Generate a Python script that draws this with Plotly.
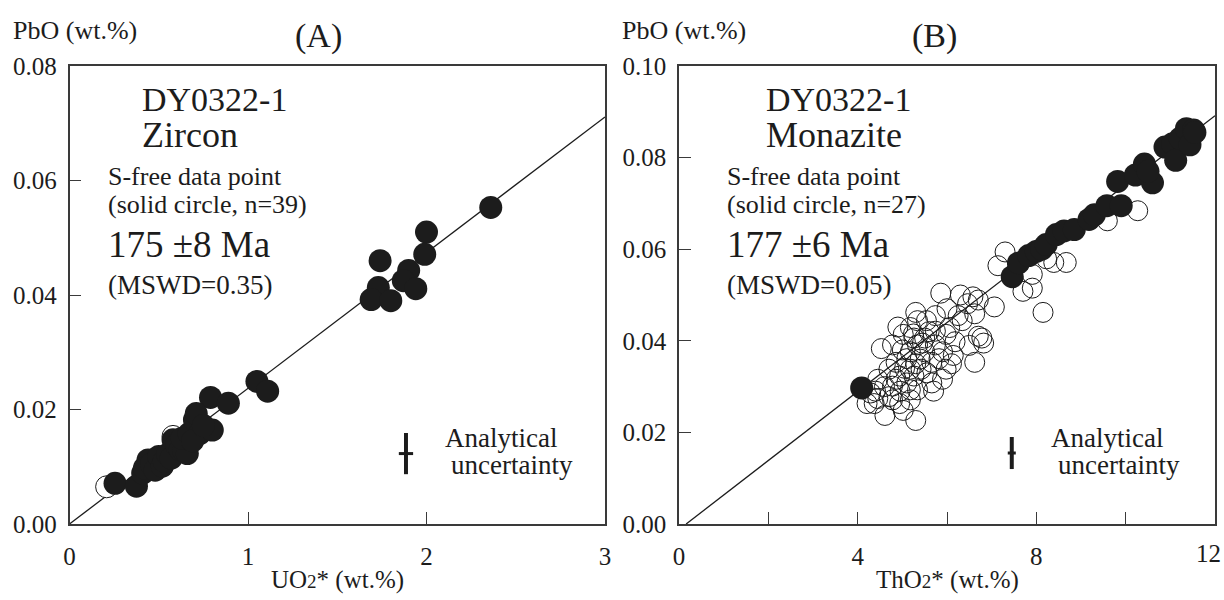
import plotly.graph_objects as go

# ---------------- Data ----------------
# Panel A: zircon (UO2* vs PbO)
ZR_SOLID_X = [2.36, 2.00, 1.99, 1.74, 1.90, 1.87, 1.94, 1.73, 1.69, 1.80,
              1.05, 1.11, 0.79, 0.89, 0.255, 0.375,
              0.41, 0.44, 0.42, 0.46, 0.48, 0.50, 0.52, 0.53, 0.55, 0.57,
              0.58, 0.60, 0.62, 0.64, 0.66, 0.63, 0.67, 0.70, 0.71, 0.73,
              0.69, 0.80, 0.75]
ZR_SOLID_Y = [0.0553, 0.0510, 0.0471, 0.0460, 0.0443, 0.0425, 0.0411, 0.0413, 0.0392, 0.0390,
              0.0249, 0.0232, 0.0221, 0.0211, 0.0071, 0.0066,
              0.0089, 0.0112, 0.0098, 0.0105, 0.0094, 0.0118, 0.0101, 0.0110, 0.0122, 0.0115,
              0.0147, 0.0138, 0.0130, 0.0128, 0.0123, 0.0150, 0.0158, 0.0182, 0.0193, 0.0158,
              0.0145, 0.0164, 0.0172]
ZR_OPEN_X = [0.208, 0.58]
ZR_OPEN_Y = [0.0065, 0.0153]
ZR_SLOPE = 0.0237           # isochron slope (wt.% PbO per wt.% UO2*)
ZR_LINE_X = [0.0, 3.0]

# Panel B: monazite (ThO2* vs PbO)
MZ_SOLID_X = [4.09, 7.46, 7.60, 7.83, 8.00, 8.12, 8.22, 8.45, 8.62, 8.85,
              9.18, 9.30, 9.58, 9.90, 9.82, 10.22, 10.42, 10.60, 10.50, 10.88,
              11.05, 11.12, 11.22, 11.36, 11.52, 11.44, 11.55]
MZ_SOLID_Y = [0.0297, 0.0540, 0.0570, 0.0586, 0.0595, 0.0600, 0.0610, 0.0632, 0.0640, 0.0643,
              0.0665, 0.0675, 0.0695, 0.0695, 0.0748, 0.0762, 0.0786, 0.0745, 0.0770, 0.0823,
              0.0830, 0.0794, 0.0842, 0.0863, 0.0860, 0.0828, 0.0855]
MZ_OPEN_X = [7.30, 7.14, 8.39, 8.67, 7.91, 7.70, 7.91, 8.15, 9.59, 10.27, 8.23,
             5.86, 6.30, 6.58, 6.70, 6.62, 7.06, 6.78, 6.82, 6.62, 6.34, 6.46, 5.74, 5.30,
             5.54, 5.74, 6.06, 6.18, 6.14, 5.98, 5.90, 5.66, 5.34, 5.30, 5.02, 4.61, 4.37,
             4.29, 4.45, 4.70, 4.53, 4.78, 5.02, 5.18, 5.34, 5.10, 4.86, 5.18, 4.94, 4.78,
             5.18, 5.34, 5.50, 5.66, 5.42, 5.26, 5.10, 4.70, 4.86, 5.18, 5.26, 5.50, 5.74,
             5.90, 5.98, 5.82, 4.78, 4.94, 4.45, 4.21, 5.18,
             5.40, 5.30, 5.45, 5.60, 5.05, 4.95, 5.55, 6.00, 6.50, 6.10, 4.60, 4.40, 5.70,
             5.00, 6.25, 6.70, 5.25, 4.90]
MZ_OPEN_Y = [0.0594, 0.0564, 0.0571, 0.0571, 0.0545, 0.0508, 0.0515, 0.0462, 0.0662, 0.0684, 0.0579,
             0.0504, 0.0500, 0.0496, 0.0489, 0.0459, 0.0474, 0.0406, 0.0395, 0.0353, 0.0444, 0.0481, 0.0455, 0.0462,
             0.0444, 0.0421, 0.0429, 0.0398, 0.0368, 0.0338, 0.0316, 0.0308, 0.0293, 0.0226, 0.0248, 0.0237, 0.0263,
             0.0286, 0.0274, 0.0278, 0.0383, 0.0391, 0.0414, 0.0429, 0.0444, 0.0361, 0.0353, 0.0338, 0.0323, 0.0301,
             0.0293, 0.0391, 0.0376, 0.0353, 0.0338, 0.0323, 0.0308, 0.0338, 0.0316, 0.0376, 0.0406, 0.0406, 0.0391,
             0.0376, 0.0414, 0.0361, 0.0271, 0.0263, 0.0316, 0.0263, 0.0271,
             0.0360, 0.0350, 0.0395, 0.0420, 0.0340, 0.0290, 0.0330, 0.0470, 0.0390, 0.0350, 0.0300, 0.0290, 0.0290,
             0.0380, 0.0455, 0.0410, 0.0415, 0.0430]
MZ_SLOPE = 0.00753          # isochron slope
MZ_X0 = 0.16                # x-intercept of isochron
MZ_LINE_X = [MZ_X0, 12.0]

# Analytical uncertainty bars (centre, half-heights)
ZR_ERR = dict(x=1.885, y=0.0123, dy=0.0036, dx=0.04)
MZ_ERR = dict(x=7.45, y=0.0155, dy=0.0035, dx=0.09)

# Tick labels
ZR_XTICKS = [0, 1, 2, 3]
ZR_YTICKS = [0.0, 0.02, 0.04, 0.06, 0.08]
MZ_XTICKS = [0, 2, 4, 6, 8, 10, 12]
MZ_XTICKTEXT = ["0", "", "4", "", "8", "", ""]
MZ_LAST_XLABEL = "12"       # drawn separately so it stays inside the page
MZ_YTICKS = [0.0, 0.02, 0.04, 0.06, 0.08, 0.10]

# ---------------- Figure ----------------
W, H = 1224, 600
FONT = "Liberation Serif"
INK = "#1c1c1c"
FRAME = "#3a3a3a"

def px(x):
    return x / W

def py(y):
    return 1 - y / H

fig = go.Figure()

# Panel A
fig.add_trace(go.Scatter(x=ZR_LINE_X, y=[ZR_SLOPE * v for v in ZR_LINE_X], mode="lines",
                         line=dict(color=INK, width=1.3), xaxis="x", yaxis="y", showlegend=False))
fig.add_trace(go.Scatter(x=ZR_OPEN_X, y=ZR_OPEN_Y, mode="markers",
                         marker=dict(symbol="circle", size=22, color="white",
                                     line=dict(color=INK, width=1)),
                         xaxis="x", yaxis="y", showlegend=False))
fig.add_trace(go.Scatter(x=ZR_SOLID_X, y=ZR_SOLID_Y, mode="markers",
                         marker=dict(symbol="circle", size=23, color=INK, line=dict(width=0)),
                         xaxis="x", yaxis="y", showlegend=False))

# Panel B
fig.add_trace(go.Scatter(x=MZ_LINE_X, y=[MZ_SLOPE * (v - MZ_X0) for v in MZ_LINE_X], mode="lines",
                         line=dict(color=INK, width=1.3), xaxis="x2", yaxis="y2", showlegend=False))
fig.add_trace(go.Scatter(x=MZ_OPEN_X, y=MZ_OPEN_Y, mode="markers",
                         marker=dict(symbol="circle-open", size=20, color=INK,
                                     line=dict(color=INK, width=1)),
                         xaxis="x2", yaxis="y2", showlegend=False))
fig.add_trace(go.Scatter(x=MZ_SOLID_X, y=MZ_SOLID_Y, mode="markers",
                         marker=dict(symbol="circle", size=23, color=INK, line=dict(width=0)),
                         xaxis="x2", yaxis="y2", showlegend=False))

# Uncertainty crosses
for err, xa, ya in [(ZR_ERR, "x", "y"), (MZ_ERR, "x2", "y2")]:
    fig.add_trace(go.Scatter(x=[err["x"], err["x"]], y=[err["y"] - err["dy"], err["y"] + err["dy"]],
                             mode="lines", line=dict(color=INK, width=4),
                             xaxis=xa, yaxis=ya, showlegend=False))
    fig.add_trace(go.Scatter(x=[err["x"] - err["dx"], err["x"] + err["dx"]], y=[err["y"], err["y"]],
                             mode="lines", line=dict(color=INK, width=3),
                             xaxis=xa, yaxis=ya, showlegend=False))

axis_common = dict(showline=True, mirror=True, linecolor=FRAME, linewidth=1.6,
                   ticks="inside", ticklen=12, tickwidth=1.4, tickcolor=FRAME,
                   showgrid=False, zeroline=False, fixedrange=True, automargin=False,
                   ticklabeloverflow="allow",
                   tickfont=dict(family=FONT, size=25, color=INK))

ydom = [py(524), py(66)]
fig.update_layout(
    width=W, height=H,
    margin=dict(l=0, r=0, t=0, b=0, autoexpand=False),
    paper_bgcolor="white", plot_bgcolor="white",
    showlegend=False, hovermode=False,
    font=dict(family=FONT, color=INK),
    xaxis=dict(domain=[px(69.5), px(605)], range=[0, 3], tickvals=ZR_XTICKS,
               ticklabelstandoff=9, anchor="y", **axis_common),
    yaxis=dict(domain=ydom, range=[0, 0.08], tickvals=ZR_YTICKS, tickformat=".2f",
               ticklabelstandoff=6, anchor="x", **axis_common),
    xaxis2=dict(domain=[px(679), px(1215)], range=[0, 12], tickvals=MZ_XTICKS,
                ticktext=MZ_XTICKTEXT, ticklabelstandoff=9, anchor="y2", **axis_common),
    yaxis2=dict(domain=ydom, range=[0, 0.10], tickvals=MZ_YTICKS, tickformat=".2f",
                ticklabelstandoff=6, anchor="x2", **axis_common),
)

def txt(x, y, s, size, anchor="left"):
    fig.add_annotation(x=px(x), y=py(y), xref="paper", yref="paper", text=s, showarrow=False,
                       xanchor=anchor, yanchor="middle", borderpad=0,
                       font=dict(family=FONT, size=size, color=INK))

sub2 = "<span style='font-size:19px'>2</span>"

# Panel A texts
txt(12, 31, "PbO (wt.%)", 26)
txt(318, 36, "(A)", 34, "center")
txt(141, 99, "DY0322-1", 34)
txt(141, 135, "Zircon", 36)
txt(107, 177, "S-free data point", 26)
txt(107, 204, "(solid circle, n=39)", 26)
txt(107, 244, "175 ±8 Ma", 37)
txt(107, 285, "(MSWD=0.35)", 27)
txt(444, 438, "Analytical", 27)
txt(450, 465, "uncertainty", 27)
txt(337, 580, "UO" + sub2 + "* (wt.%)", 25, "center")

# Panel B texts
txt(621, 31, "PbO (wt.%)", 26)
txt(935, 36, "(B)", 34, "center")
txt(765, 99, "DY0322-1", 34)
txt(765, 135, "Monazite", 36)
txt(726, 177, "S-free data point", 26)
txt(726, 204, "(solid circle, n=27)", 26)
txt(726, 244, "177 ±6 Ma", 37)
txt(726, 285, "(MSWD=0.05)", 27)
txt(1050, 438, "Analytical", 27)
txt(1057, 465, "uncertainty", 27)
txt(947, 580, "ThO" + sub2 + "* (wt.%)", 25, "center")
txt(1222, 553, MZ_LAST_XLABEL, 25, "right")

# Remove the default page margin so the 1224x600 figure fills the window exactly
fig.write_html("out.html", config={"displayModeBar": False},
               post_script="document.body.style.margin='0';document.body.style.overflow='hidden';")
